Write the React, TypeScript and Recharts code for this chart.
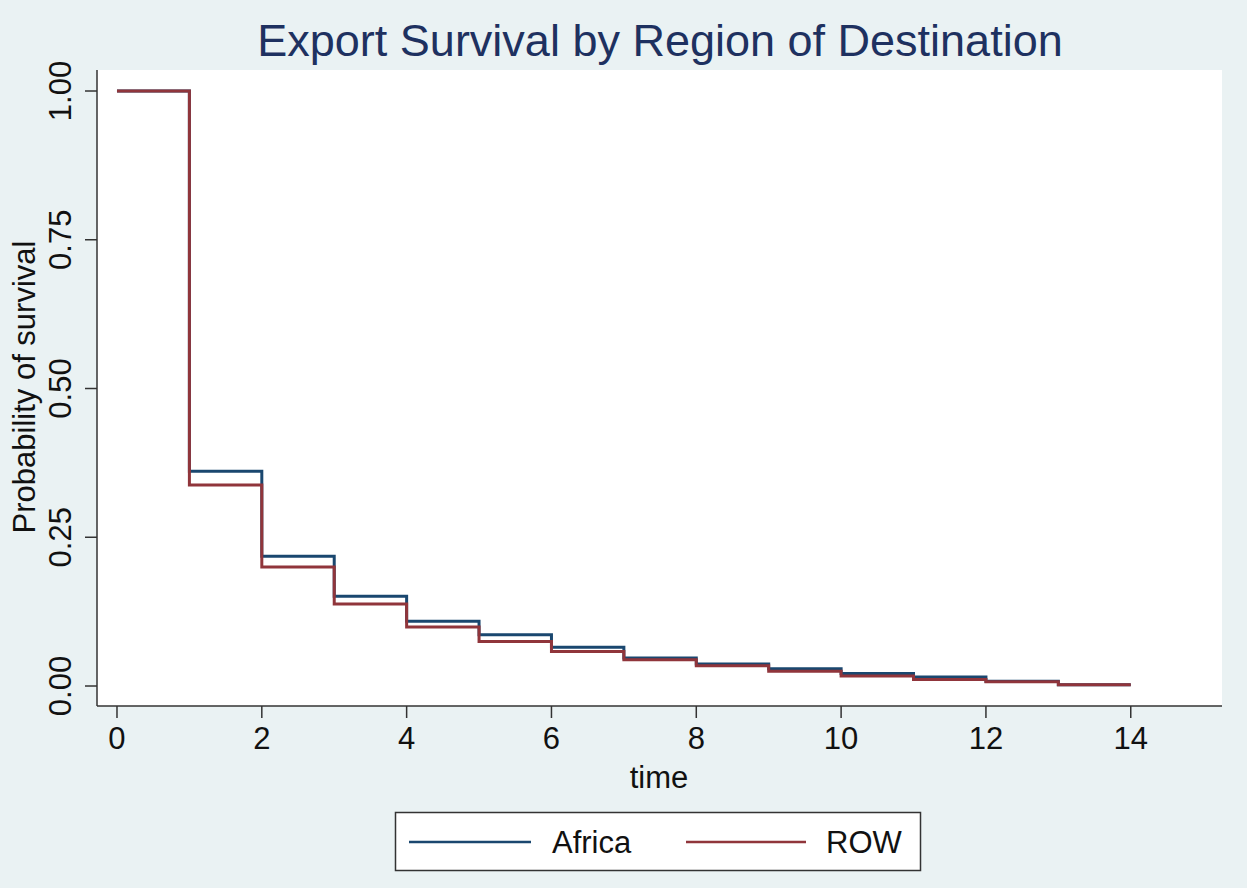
import React from 'react';
import { LineChart, Line, XAxis, YAxis, CartesianGrid } from 'recharts';

const times = [0, 1, 2, 3, 4, 5, 6, 7, 8, 9, 10, 11, 12, 13, 14];
const africa = [1.0, 0.361, 0.218, 0.151, 0.109, 0.086, 0.065, 0.047, 0.037, 0.029, 0.021, 0.015, 0.008, 0.002, 0.002];
const row = [1.0, 0.338, 0.2, 0.138, 0.099, 0.075, 0.058, 0.044, 0.034, 0.025, 0.017, 0.011, 0.007, 0.002, 0.002];
const xTicks = [0, 2, 4, 6, 8, 10, 12, 14];
const yTicks = [0, 0.25, 0.5, 0.75, 1];

const data = times.map((t, i) => ({ time: t, africa: africa[i], row: row[i] }));

const FONT = '"Liberation Sans", Arial, Helvetica, sans-serif';
const BG = '#eaf2f3';
const BLUE = '#1a476f';
const RED = '#90353b';
const INK = '#111';

const YTick = (props: any) => {
  const { x, y, payload } = props;
  const cx = x - 12;
  return (
    <text x={cx} y={y} transform={`rotate(-90, ${cx}, ${y})`} textAnchor="middle" fontSize={31} fill={INK} fontFamily={FONT}>
      {payload.value.toFixed(2)}
    </text>
  );
};

const XTick = (props: any) => {
  const { x, y, payload } = props;
  return (
    <text x={x} y={y + 29} textAnchor="middle" fontSize={31} fill={INK} fontFamily={FONT}>
      {payload.value}
    </text>
  );
};

export default function App() {
  return (
    <div style={{ position: 'absolute', left: 0, top: 0, width: 1247, height: 888, background: BG }}>
      <LineChart width={1247} height={888} data={data} margin={{ top: 70, right: 25, left: 0, bottom: 0 }}>
        <rect x={97} y={70} width={1125} height={636} fill="#fff" />
        <CartesianGrid horizontal vertical={false} stroke={BG} strokeWidth={2} />
        <XAxis
          dataKey="time"
          type="number"
          domain={[-0.276, 15.26]}
          ticks={xTicks}
          allowDataOverflow
          height={182}
          tick={<XTick />}
          tickSize={12}
          axisLine={{ stroke: '#333', strokeWidth: 1.5 }}
          tickLine={{ stroke: '#333', strokeWidth: 1.5 }}
        />
        <YAxis
          type="number"
          domain={[-0.0336, 1.0353]}
          ticks={yTicks}
          allowDataOverflow
          width={97}
          tick={<YTick />}
          tickSize={12}
          axisLine={{ stroke: '#333', strokeWidth: 1.5 }}
          tickLine={{ stroke: '#333', strokeWidth: 1.5 }}
        />
        <Line type="stepAfter" dataKey="africa" stroke={BLUE} strokeWidth={3} dot={false} isAnimationActive={false} />
        <Line type="stepAfter" dataKey="row" stroke={RED} strokeWidth={3} dot={false} isAnimationActive={false} />
      </LineChart>
      <svg width={1247} height={888} style={{ position: 'absolute', left: 0, top: 0, pointerEvents: 'none' }} fontFamily={FONT}>
        <text x={660} y={56} textAnchor="middle" fontSize={45} fill="#1e3160">
          Export Survival by Region of Destination
        </text>
        <text x={35} y={387} transform="rotate(-90, 35, 387)" textAnchor="middle" fontSize={31} fill={INK}>
          Probability of survival
        </text>
        <text x={659} y={788} textAnchor="middle" fontSize={31} fill={INK}>
          time
        </text>
        <rect x={395.5} y={812.5} width={525} height={58} fill="#fff" stroke="#333" strokeWidth={1.5} />
        <line x1={409} x2={531} y1={842} y2={842} stroke={BLUE} strokeWidth={2.5} />
        <text x={552} y={853} fontSize={31} fill={INK}>Africa</text>
        <line x1={686} x2={806} y1={842} y2={842} stroke={RED} strokeWidth={2.5} />
        <text x={826} y={853} fontSize={31} fill={INK}>ROW</text>
      </svg>
    </div>
  );
}
